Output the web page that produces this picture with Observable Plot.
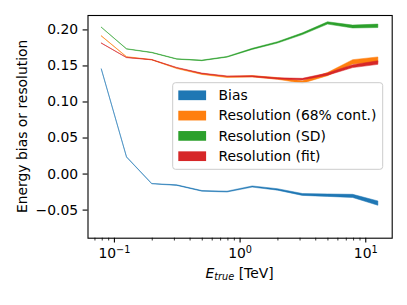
<!DOCTYPE html>
<html><head><meta charset="utf-8">
<script src="https://cdn.jsdelivr.net/npm/d3@7"></script>
<script src="https://cdn.jsdelivr.net/npm/@observablehq/plot@0.6"></script>
<style>
body{margin:0;background:#fff}
svg{font-family:"DejaVu Sans",sans-serif}
</style>
</head><body><div id="chart"></div>
<script>
// Data
const energy = [0.0794, 0.126, 0.2, 0.316, 0.501, 0.794, 1.26, 2.0, 3.16, 5.01, 7.94, 12.6];
const bias      = [0.145, 0.023, -0.014, -0.016, -0.024, -0.025, -0.018, -0.022, -0.029, -0.030, -0.031, -0.041];
const biasErr   = [0.0001,0.0002,0.0003,0.0004,0.0005,0.0006,0.0008,0.0010,0.0013,0.0017,0.0022,0.0030];
const res68     = [0.191, 0.162, 0.158, 0.146, 0.138, 0.134, 0.135, 0.132, 0.127, 0.138, 0.155, 0.158];
const res68Err  = [0.0001,0.0002,0.0003,0.0004,0.0005,0.0007,0.0009,0.0012,0.0016,0.0022,0.0030,0.0038];
const resSD     = [0.203, 0.173, 0.168, 0.159, 0.157, 0.162, 0.173, 0.182, 0.194, 0.209, 0.204, 0.205];
const resSDErr  = [0.0001,0.0002,0.0003,0.0003,0.0004,0.0005,0.0007,0.0009,0.0012,0.0016,0.0020,0.0024];
const resFit    = [0.181, 0.161, 0.158, 0.147, 0.139, 0.135, 0.135, 0.132, 0.131, 0.138, 0.149, 0.154];
const resFitErr = [0.0001,0.0002,0.0002,0.0003,0.0004,0.0005,0.0007,0.0009,0.0011,0.0015,0.0020,0.0025];

const seriesNames  = ["Bias", "Resolution (68% cont.)", "Resolution (SD)", "Resolution (fit)"];
const seriesColors = ["#1f77b4", "#ff7f0e", "#2ca02c", "#d62728"];
const seriesValues = [bias, res68, resSD, resFit];
const seriesErrors = [biasErr, res68Err, resSDErr, resFitErr];

const yTicks = [-0.05, 0, 0.05, 0.10, 0.15, 0.20];
const xTicks = [0.1, 1, 10];
const xTickExponents = ["−1", "0", "1"];
const xMinorTicks = [0.07,0.08,0.09,0.2,0.3,0.4,0.5,0.6,0.7,0.8,0.9,2,3,4,5,6,7,8,9];
const yDomain = [-0.089, 0.22];
const xLabelMain = "E", xLabelSub = "true", xLabelRest = " [TeV]";
const yLabel = "Energy bias or resolution";

const rows = [];
seriesNames.forEach((name, i) => {
  energy.forEach((e, j) => {
    rows.push({series: name, x: e, y1: seriesValues[i][j] - seriesErrors[i][j], y2: seriesValues[i][j] + seriesErrors[i][j]});
  });
});

const lo = Math.log10(d3.min(energy)), hi = Math.log10(d3.max(energy));
const pad = 0.05 * (hi - lo);
const xDomain = [10 ** (lo - pad), 10 ** (hi + pad)];

const W = 407, H = 305, mL = 87.5, mR = 15.3, mT = 15, mB = 67.3;
const FS = 13.9;

const plot = Plot.plot({
  width: W, height: H,
  marginLeft: mL, marginRight: mR, marginTop: mT, marginBottom: mB,
  style: {fontFamily: "DejaVu Sans, sans-serif", background: "#fff", overflow: "visible"},
  x: {type: "log", domain: xDomain},
  y: {domain: yDomain},
  color: {domain: seriesNames, range: seriesColors},
  marks: [
    Plot.areaY(rows, {x: "x", y1: "y1", y2: "y2", z: "series", fill: "series", stroke: "series", strokeWidth: 0.5, curve: "linear"}),
    Plot.axisX(xMinorTicks, {tickSize: 2.8, tickFormat: () => "", label: null, strokeWidth: 0.8}),
    Plot.axisX(xTicks, {tickSize: 4.9, tickPadding: 5.5, fontSize: FS, tickFormat: (d) => "10^" + xTickExponents[xTicks.indexOf(d)], label: null, strokeWidth: 1.1, fill: "black"}),
    Plot.axisY(yTicks, {tickSize: 4.9, tickPadding: 4.9, fontSize: FS, tickFormat: d3.format(".2f"), label: null, strokeWidth: 1.1, fill: "black"}),
    Plot.frame({stroke: "black", strokeWidth: 1.1})
  ]
});

document.getElementById("chart").appendChild(plot);
const svg = d3.select(plot);

// superscript tick labels
svg.selectAll('g[aria-label="x-axis tick label"] text').each(function() {
  const t = d3.select(this);
  const s = t.text();
  const [base, exp] = s.split("^");
  t.text(null);
  t.append("tspan").text(base);
  t.append("tspan").attr("font-size", FS * 0.7).attr("dy", "-0.55em").text(exp);
});

// x label
const cx = mL + (W - mL - mR) / 2;
const xl = svg.append("text").attr("x", cx).attr("y", 277.5).attr("text-anchor", "middle").attr("font-size", FS).attr("fill", "black");
xl.append("tspan").attr("font-style", "italic").text(xLabelMain);
xl.append("tspan").attr("font-style", "italic").attr("font-size", FS * 0.7).attr("dy", "0.25em").text(xLabelSub);
xl.append("tspan").attr("dy", -0.25 * FS * 0.7).text(xLabelRest);

// y label
const cy = mT + (H - mT - mB) / 2;
svg.append("text").attr("transform", `translate(27,${cy}) rotate(-90)`).attr("text-anchor", "middle").attr("font-size", FS).attr("fill", "black").text(yLabel);

// legend
const lg = svg.append("g");
lg.append("rect").attr("x", 172.7).attr("y", 82.7).attr("width", 210).attr("height", 86.6).attr("rx", 2.8)
  .attr("fill", "white").attr("fill-opacity", 0.8).attr("stroke", "#cccccc").attr("stroke-width", 1);
seriesNames.forEach((name, i) => {
  const ry = 95.3 + i * 20.3;
  lg.append("rect").attr("x", 178.3).attr("y", ry - 4.85).attr("width", 27.8).attr("height", 9.7).attr("fill", seriesColors[i]);
  lg.append("text").attr("x", 218.5).attr("y", ry + 4.6).attr("text-anchor", "start").attr("font-size", FS).attr("fill", "black").text(name);
});
</script>
</body></html>
